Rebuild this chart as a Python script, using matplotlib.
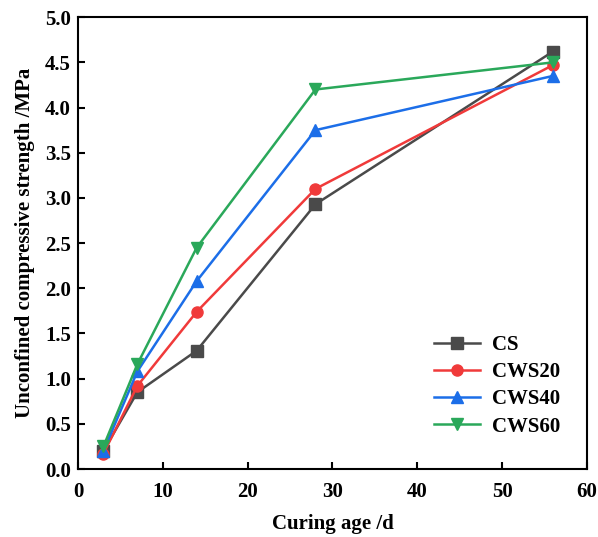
import matplotlib.pyplot as plt

# curing age (d) and unconfined compressive strength (MPa)
ages = [3, 7, 14, 28, 56]
cs = [0.20, 0.85, 1.31, 2.93, 4.62]
cws20 = [0.17, 0.92, 1.74, 3.10, 4.47]
cws40 = [0.20, 1.08, 2.08, 3.75, 4.35]
cws60 = [0.25, 1.16, 2.45, 4.20, 4.50]
labels = ['CS', 'CWS20', 'CWS40', 'CWS60']

plt.rcParams['font.family'] = ['Liberation Serif', 'DejaVu Serif']
plt.rcParams['font.weight'] = 'bold'

fig = plt.figure(figsize=(5.98, 5.37), dpi=100)
ax = fig.add_axes([0.1304, 0.1266, 0.851, 0.8414])

styles = [('#4a4a4a', 's'), ('#f03a3a', 'o'), ('#1c6ee8', '^'), ('#2aa85a', 'v')]
for series, label, (color, marker) in zip([cs, cws20, cws40, cws60], labels, styles):
    ax.plot(ages, series, color=color, marker=marker, markersize=8, linewidth=1.8, label=label)

ax.set_xlim(0, 60)
ax.set_ylim(0, 5.0)
ax.set_xticks(range(0, 61, 10))
ax.set_yticks([i * 0.5 for i in range(11)])
ax.set_yticklabels([f'{i * 0.5:.1f}' for i in range(11)])
ax.tick_params(direction='in', length=5, width=1.5, labelsize=15)
ax.tick_params(axis='x', pad=9)
ax.tick_params(axis='y', pad=5)
for lab in ax.get_xticklabels() + ax.get_yticklabels():
    lab.set_fontweight('bold')
for spine in ax.spines.values():
    spine.set_linewidth(1.5)

ax.set_xlabel('Curing age /d', fontsize=15, fontweight='bold', labelpad=9)
ax.set_ylabel('Unconfined compressive strength /MPa', fontsize=15, fontweight='bold', labelpad=7)

ax.legend(loc='lower right', frameon=False, prop={'size': 15, 'weight': 'bold'},
          handlelength=2.2, handletextpad=0.6, labelspacing=0.35,
          bbox_to_anchor=(0.985, 0.03))

plt.savefig('out.png', dpi=100)
plt.close()
